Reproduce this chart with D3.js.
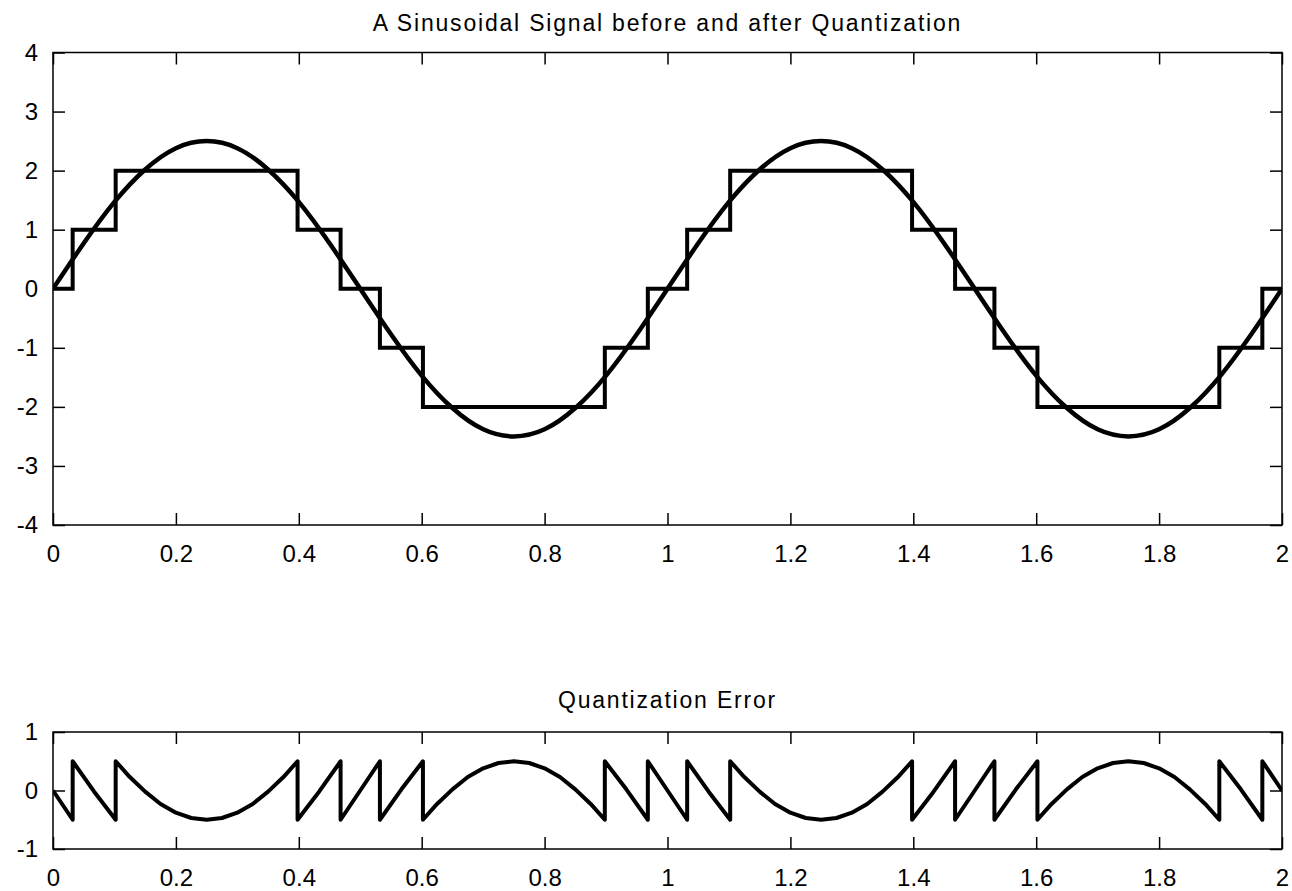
<!DOCTYPE html>
<html>
<head>
<meta charset="utf-8">
<script src="https://cdn.jsdelivr.net/npm/d3@7"></script>
<style>
  body { margin: 0; background: #fff; }
  svg { display: block; }
  .tick text { font-family: "Liberation Sans", Arial, sans-serif; font-size: 24px; fill: #000; }
  .ttl { font-family: "Liberation Sans", Arial, sans-serif; font-size: 23px; letter-spacing: 1.8px; fill: #000; }
</style>
</head>
<body>
<svg id="chart" width="1292" height="891"></svg>
<script>
const sigT = [0, 0.05, 0.1, 0.15, 0.2, 0.25, 0.3, 0.35, 0.4, 0.45, 0.5, 0.55, 0.6, 0.65, 0.7, 0.75, 0.8, 0.85, 0.9, 0.95,
  1, 1.05, 1.1, 1.15, 1.2, 1.25, 1.3, 1.35, 1.4, 1.45, 1.5, 1.55, 1.6, 1.65, 1.7, 1.75, 1.8, 1.85, 1.9, 1.95, 2];
const sigV = [0, 0.77, 1.47, 2.02, 2.38, 2.5, 2.38, 2.02, 1.47, 0.77, 0, -0.77, -1.47, -2.02, -2.38, -2.5, -2.38, -2.02, -1.47, -0.77,
  0, 0.77, 1.47, 2.02, 2.38, 2.5, 2.38, 2.02, 1.47, 0.77, 0, -0.77, -1.47, -2.02, -2.38, -2.5, -2.38, -2.02, -1.47, -0.77, 0];

// quantized levels, each held from quantT[i] to quantT[i+1]
const quantT = [0, 0.032, 0.102, 0.398, 0.468, 0.532, 0.602, 0.898, 0.968, 1.032, 1.102, 1.398, 1.468, 1.532, 1.602, 1.898, 1.968, 2.0];
const quantV = [0, 1, 2, 1, 0, -1, -2, -1, 0, 1, 2, 1, 0, -1, -2, -1, 0, 0];

// quantization error (repeated t = jump)
const errT = [0, 0.032, 0.032, 0.067, 0.102, 0.102, 0.125, 0.15, 0.175, 0.2, 0.225, 0.25, 0.275, 0.3, 0.325, 0.35, 0.375, 0.398,
  0.398, 0.433, 0.468, 0.468, 0.5, 0.532, 0.532, 0.567, 0.602, 0.602, 0.625, 0.65, 0.675, 0.7, 0.725, 0.75, 0.775, 0.8, 0.825,
  0.85, 0.875, 0.898, 0.898, 0.933, 0.968, 0.968, 1.0, 1.032,
  1.032, 1.067, 1.102, 1.102, 1.125, 1.15, 1.175, 1.2, 1.225, 1.25, 1.275, 1.3, 1.325, 1.35, 1.375, 1.398,
  1.398, 1.433, 1.468, 1.468, 1.5, 1.532, 1.532, 1.567, 1.602, 1.602, 1.625, 1.65, 1.675, 1.7, 1.725, 1.75, 1.775, 1.8, 1.825,
  1.85, 1.875, 1.898, 1.898, 1.933, 1.968, 1.968, 2.0];
const errV = [0, -0.5, 0.5, -0.02, -0.5, 0.5, 0.23, -0.02, -0.23, -0.38, -0.47, -0.5, -0.47, -0.38, -0.23, -0.02, 0.23, 0.5,
  -0.5, -0.02, 0.5, -0.5, 0, 0.5, -0.5, 0.02, 0.5, -0.5, -0.23, 0.02, 0.23, 0.38, 0.47, 0.5, 0.47, 0.38, 0.23,
  0.02, -0.23, -0.5, 0.5, 0.02, -0.5, 0.5, 0, -0.5,
  0.5, -0.02, -0.5, 0.5, 0.23, -0.02, -0.23, -0.38, -0.47, -0.5, -0.47, -0.38, -0.23, -0.02, 0.23, 0.5,
  -0.5, -0.02, 0.5, -0.5, 0, 0.5, -0.5, 0.02, 0.5, -0.5, -0.23, 0.02, 0.23, 0.38, 0.47, 0.5, 0.47, 0.38, 0.23,
  0.02, -0.23, -0.5, 0.5, 0.02, -0.5, 0.5, 0];

const xTicks = [0, 0.2, 0.4, 0.6, 0.8, 1, 1.2, 1.4, 1.6, 1.8, 2];
const yTicksTop = [-4, -3, -2, -1, 0, 1, 2, 3, 4];
const yTicksBot = [-1, 0, 1];

const svg = d3.select("#chart");
const left = 53, right = 1282;

function panel(id, top, bottom, yDom, yTicks, title, titleY) {
  const x = d3.scaleLinear().domain([0, 2]).range([left, right]);
  const y = d3.scaleLinear().domain(yDom).range([bottom, top]);

  svg.append("clipPath").attr("id", id)
    .append("rect").attr("x", left).attr("y", top).attr("width", right - left).attr("height", bottom - top);

  const fmt = d => String(d);
  const tk = -12;
  svg.append("g").attr("transform", `translate(0,${bottom})`)
    .call(d3.axisBottom(x).tickValues(xTicks).tickFormat(fmt).tickSizeInner(tk).tickSizeOuter(0).tickPadding(20));
  svg.append("g").attr("transform", `translate(0,${top})`)
    .call(d3.axisTop(x).tickValues(xTicks).tickFormat("").tickSizeInner(tk).tickSizeOuter(0));
  svg.append("g").attr("transform", `translate(${left},0)`)
    .call(d3.axisLeft(y).tickValues(yTicks).tickFormat(fmt).tickSizeInner(tk).tickSizeOuter(0).tickPadding(15));
  svg.append("g").attr("transform", `translate(${right},0)`)
    .call(d3.axisRight(y).tickValues(yTicks).tickFormat("").tickSizeInner(tk).tickSizeOuter(0));

  svg.selectAll(".domain").remove();
  svg.selectAll(".tick line").attr("stroke", "#000").attr("stroke-width", 1.5);

  svg.append("rect")
    .attr("x", left).attr("y", top).attr("width", right - left).attr("height", bottom - top)
    .attr("fill", "none").attr("stroke", "#000").attr("stroke-width", 1.5);

  svg.append("text").attr("class", "ttl")
    .attr("x", (left + right) / 2).attr("y", titleY)
    .attr("text-anchor", "middle").text(title);

  return { x, y };
}

const p1 = panel("clipTop", 52.5, 525, [-4, 4], yTicksTop, "A Sinusoidal Signal before and after Quantization", 31);
const p2 = panel("clipBot", 732, 849, [-1, 1], yTicksBot, "Quantization Error", 708);

const g1 = svg.append("g").attr("clip-path", "url(#clipTop)");
g1.append("path")
  .datum(sigT.map((t, i) => [t, sigV[i]]))
  .attr("fill", "none").attr("stroke", "#000").attr("stroke-width", 4.5)
  .attr("d", d3.line().x(d => p1.x(d[0])).y(d => p1.y(d[1])).curve(d3.curveNatural));
g1.append("path")
  .datum(quantT.map((t, i) => [t, quantV[i]]))
  .attr("fill", "none").attr("stroke", "#000").attr("stroke-width", 4)
  .attr("d", d3.line().x(d => p1.x(d[0])).y(d => p1.y(d[1])).curve(d3.curveStepAfter));

const g2 = svg.append("g").attr("clip-path", "url(#clipBot)");
g2.append("path")
  .datum(errT.map((t, i) => [t, errV[i]]))
  .attr("fill", "none").attr("stroke", "#000").attr("stroke-width", 4).attr("stroke-linejoin", "round")
  .attr("d", d3.line().x(d => p2.x(d[0])).y(d => p2.y(d[1])));
</script>
</body>
</html>
